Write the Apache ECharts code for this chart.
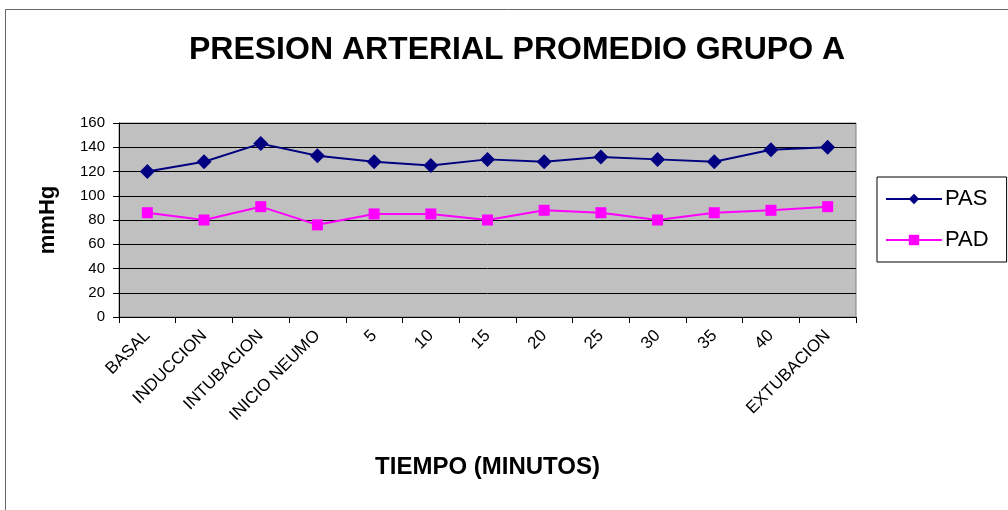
<!DOCTYPE html>
<html>
<head>
<meta charset="utf-8">
<script src="https://cdn.jsdelivr.net/npm/echarts@6/dist/echarts.min.js"></script>
<style>html,body{margin:0;padding:0;background:#fff}#c{width:1008px;height:510px}</style>
</head>
<body>
<div id="c"></div>
<script>
const categories = ['BASAL','INDUCCION','INTUBACION','INICIO NEUMO','5','10','15','20','25','30','35','40','EXTUBACION'];
const pas = [120,128,143,133,128,125,130,128,132,130,128,138,140];
const pad = [86,80,91,76,85,85,80,88,86,80,86,88,91];
const yTicks = {min:0, max:160, interval:20};

const chart = echarts.init(document.getElementById('c'));
const font = '"Liberation Sans", Arial, sans-serif';
chart.setOption({
  animation:false,
  backgroundColor:'#fff',
  textStyle:{fontFamily:font},
  title:{text:'PRESION ARTERIAL PROMEDIO GRUPO A', left:'512', top:29, textAlign:'center',
    textStyle:{fontSize:32, fontWeight:'bold', color:'#000', fontFamily:font}},
  graphic:[{type:'rect', shape:{x:5.5,y:9.5,width:1010,height:510}, style:{fill:'none', stroke:'#666', lineWidth:1}, silent:true}],
  legend:{orient:'vertical', left:877, top:177,
    backgroundColor:'#fff', borderColor:'#000', borderWidth:1, padding:[11,18,11,8], itemGap:19,
    itemWidth:56, itemHeight:13,
    textStyle:{fontSize:22, color:'#000', fontFamily:font, padding:[0,0,0,-2]},
    data:['PAS','PAD']},
  grid:{left:119, right:152, top:123, bottom:193, show:true, backgroundColor:'#c0c0c0', borderColor:'#808080', borderWidth:1},
  xAxis:{type:'category', data:categories, boundaryGap:true,
    name:'TIEMPO (MINUTOS)', nameLocation:'middle', nameGap:138,
    nameTextStyle:{fontSize:24, fontWeight:'bold', color:'#000', fontFamily:font},
    axisLine:{lineStyle:{color:'#000', width:1}},
    axisTick:{show:true, length:6, lineStyle:{color:'#000'}},
    axisLabel:{rotate:45, fontSize:17, color:'#000', margin:16, interval:0, fontFamily:font},
    splitLine:{show:false}},
  yAxis:{type:'value', min:yTicks.min, max:yTicks.max, interval:yTicks.interval,
    name:'mmHg', nameLocation:'middle', nameGap:60, nameRotate:90,
    nameTextStyle:{fontSize:22, fontWeight:'bold', color:'#000', fontFamily:font},
    axisLine:{show:true, lineStyle:{color:'#000', width:1}},
    axisTick:{show:true, length:6, lineStyle:{color:'#000'}},
    axisLabel:{fontSize:15, color:'#000', margin:14, fontFamily:font},
    splitLine:{show:true, lineStyle:{color:'#000', width:1}}},
  series:[
    {name:'PAS', type:'line', data:pas, symbol:'diamond', symbolSize:15,
      lineStyle:{color:'#000080', width:2}, itemStyle:{color:'#000080'}},
    {name:'PAD', type:'line', data:pad, symbol:'rect', symbolSize:11,
      lineStyle:{color:'#ff00ff', width:2}, itemStyle:{color:'#ff00ff'}}
  ]
});
</script>
</body>
</html>
